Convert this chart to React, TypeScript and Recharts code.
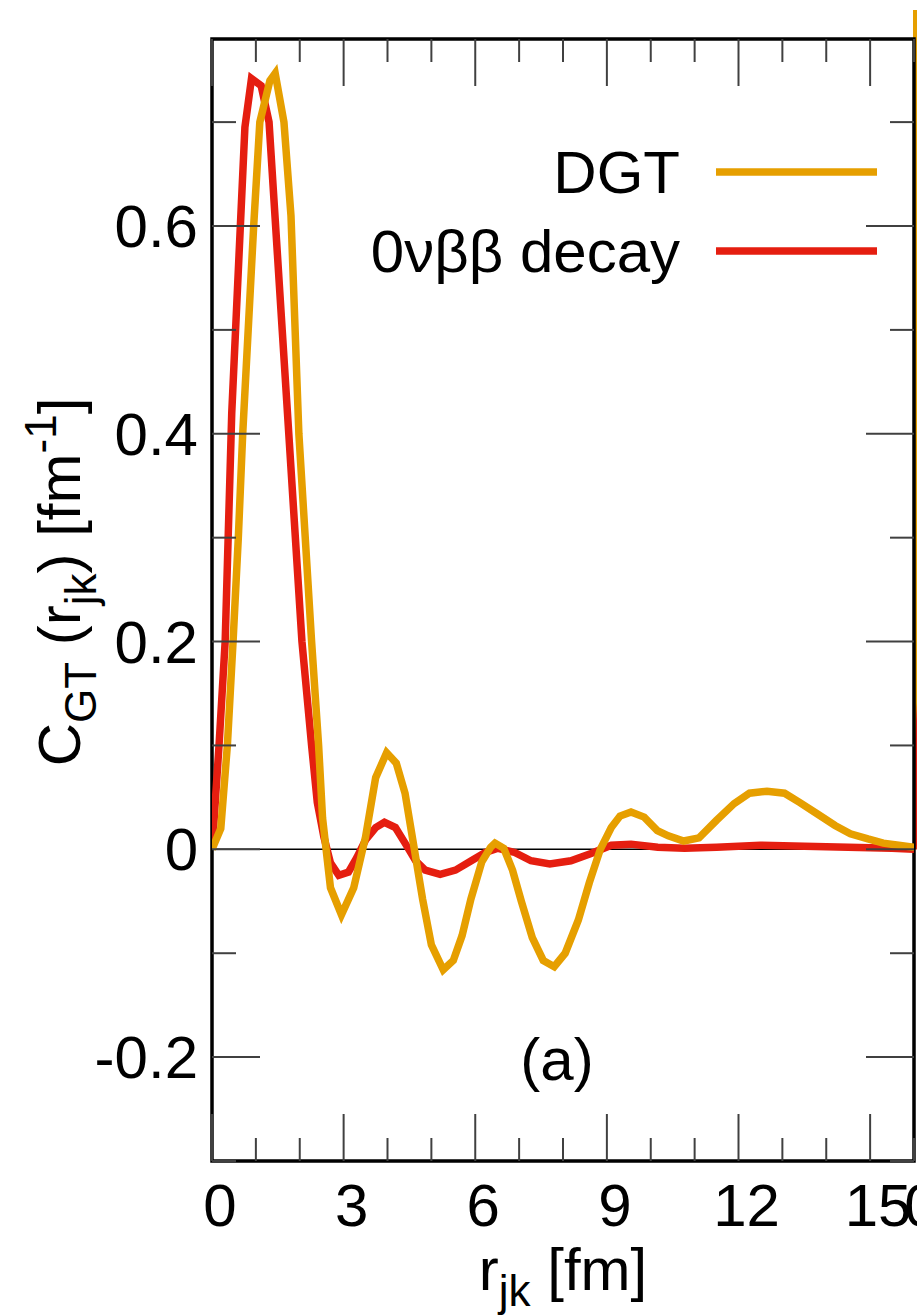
import React from 'react';
import { LineChart, Line, XAxis, YAxis, ReferenceLine, ReferenceArea } from 'recharts';

const FONT = '"Liberation Sans", Arial, Helvetica, sans-serif';
const ORANGE = '#E69F00';
const RED = '#E51E10';
const TICK = '#404040';

// panel (a) – r_jk in fm
const dgtR = [0, 0.2, 0.35, 0.48, 0.6, 0.7, 0.95, 1.09, 1.32, 1.44, 1.64, 1.8, 1.98, 2.27, 2.43, 2.52, 2.7, 2.95, 3.23, 3.5, 3.73, 3.98, 4.2, 4.4, 4.6, 4.8, 5.0, 5.27, 5.5, 5.7, 5.9, 6.15, 6.35, 6.45, 6.65, 6.85, 7.05, 7.3, 7.55, 7.8, 8.05, 8.35, 8.6, 8.85, 9.1, 9.3, 9.55, 9.85, 10.15, 10.4, 10.75, 11.1, 11.5, 11.9, 12.25, 12.65, 13.05, 13.4, 13.8, 14.2, 14.55, 14.95, 15.3, 15.65, 16];
const dgtV = [0, 0.02, 0.1, 0.2, 0.3, 0.4, 0.6, 0.7, 0.74, 0.747, 0.7, 0.61, 0.4, 0.2, 0.1, 0.03, -0.037, -0.063, -0.037, 0.012, 0.069, 0.093, 0.083, 0.054, 0.003, -0.048, -0.092, -0.116, -0.107, -0.083, -0.048, -0.012, 0.002, 0.006, 0.001, -0.02, -0.05, -0.085, -0.107, -0.113, -0.1, -0.068, -0.032, 0.0, 0.021, 0.032, 0.036, 0.031, 0.018, 0.013, 0.008, 0.011, 0.028, 0.044, 0.054, 0.056, 0.054, 0.045, 0.034, 0.023, 0.015, 0.01, 0.006, 0.004, 0.002];

const onbbR = [0, 0.05, 0.16, 0.3, 0.45, 0.75, 0.9, 1.12, 1.3, 1.6, 1.75, 2.05, 2.27, 2.4, 2.55, 2.7, 2.89, 3.11, 3.3, 3.5, 3.73, 3.93, 4.18, 4.4, 4.64, 4.86, 5.2, 5.55, 5.91, 6.23, 6.52, 6.9, 7.27, 7.7, 8.18, 8.64, 9.1, 9.55, 10.16, 10.77, 11.5, 12.5, 13.5, 14.5, 15.5, 16];
const onbbV = [0, 0.03, 0.1, 0.2, 0.42, 0.695, 0.742, 0.735, 0.7, 0.5, 0.4, 0.2, 0.1, 0.045, 0.012, -0.013, -0.025, -0.022, -0.008, 0.009, 0.021, 0.026, 0.021, 0.006, -0.011, -0.02, -0.024, -0.02, -0.011, -0.003, 0.001, -0.003, -0.011, -0.014, -0.011, -0.004, 0.004, 0.005, 0.002, 0.001, 0.002, 0.004, 0.003, 0.002, 0.001, 0];

// panel (b) starts at the right edge, only its first rise is visible
const panelBR = [0, 0.2];
const panelBDgt = [0, 3.0];
const panelBOnbb = [0, 0.16];
const panelBTicks = [0];

const xTicks = [0, 1, 2, 3, 4, 5, 6, 7, 8, 9, 10, 11, 12, 13, 14, 15, 16];
const yTicks = [-0.3, -0.2, -0.1, 0, 0.1, 0.2, 0.3, 0.4, 0.5, 0.6, 0.7];

const series = [
  { name: 'DGT', color: ORANGE },
  { name: '0νββ decay', color: RED },
];

const toRows = (r: number[], v: number[]) => r.map((x, i) => ({ r: x, v: v[i] }));
const dgtData = toRows(dgtR, dgtV);
const onbbData = toRows(onbbR, onbbV);
const bDgtData = toRows(panelBR, panelBDgt);
const bOnbbData = toRows(panelBR, panelBOnbb);

const PLOT_W = 702;
const PLOT_H = 1122;
const FS = 60;
const LW = 7.5;

const XTick = (props: any) => {
  const { x, y, payload } = props;
  const v = payload.value;
  const major = v % 3 === 0;
  const len = major ? 47 : 23;
  return (
    <g>
      <line x1={x} x2={x} y1={y} y2={y - len} stroke={TICK} strokeWidth={2} />
      <line x1={x} x2={x} y1={y - PLOT_H} y2={y - PLOT_H + len} stroke={TICK} strokeWidth={2} />
      {major && (
        <text x={x + 8} y={y + 65} textAnchor="middle" fontFamily={FONT} fontSize={FS} fill="#000">
          {v}
        </text>
      )}
    </g>
  );
};

const BTick = (props: any) => {
  const { x, y, payload } = props;
  return (
    <text x={x + 8} y={y + 65} textAnchor="middle" fontFamily={FONT} fontSize={FS} fill="#000">
      {payload.value}
    </text>
  );
};

const YTick = (props: any) => {
  const { x, y, payload } = props;
  const v = payload.value;
  const k = Math.round(v * 10);
  const major = k % 2 === 0;
  const len = major ? 48 : 24;
  return (
    <g>
      <line x1={x} x2={x + len} y1={y} y2={y} stroke={TICK} strokeWidth={2} />
      <line x1={x + PLOT_W} x2={x + PLOT_W - len} y1={y} y2={y} stroke={TICK} strokeWidth={2} />
      {major && (
        <text x={x - 14} y={y + 21} textAnchor="end" fontFamily={FONT} fontSize={FS} fill="#000">
          {k === 0 ? '0' : v.toFixed(1)}
        </text>
      )}
    </g>
  );
};

const Labels = () => (
  <g fontFamily={FONT} fill="#000">
    <text x={563} y={1290} textAnchor="middle" fontSize={FS}>
      r<tspan dy={16} fontSize={44}>jk</tspan>
      <tspan dy={-16}> [fm]</tspan>
    </text>
    <text x={80} y={582} textAnchor="middle" fontSize={FS} transform="rotate(-90 80 582)">
      C<tspan dy={16} fontSize={44}>GT</tspan>
      <tspan dy={-16}> (r</tspan>
      <tspan dy={16} fontSize={44}>jk</tspan>
      <tspan dy={-16}>) [fm</tspan>
      <tspan dy={-24} fontSize={44}>-1</tspan>
      <tspan dy={24}>]</tspan>
    </text>
    <text x={557} y={1080} textAnchor="middle" fontSize={FS}>(a)</text>
    {series.map((s, i) => (
      <g key={s.name}>
        <text x={680} y={193 + i * 79} textAnchor="end" fontSize={FS}>{s.name}</text>
        <line x1={716} x2={877} y1={172 + i * 79} y2={172 + i * 79} stroke={s.color} strokeWidth={LW} />
      </g>
    ))}
  </g>
);

export default function App() {
  return (
    <div style={{ position: 'absolute', left: 0, top: 0, width: 920, height: 1315, overflow: 'hidden', background: '#fff' }}>
      <div style={{ position: 'absolute', left: 0, top: 0, width: 917, height: 1315, overflow: 'hidden' }}>
        <LineChart width={1700} height={1315} margin={{ top: 10, right: 85, bottom: 0, left: 913 }}>
          <XAxis
            type="number"
            dataKey="r"
            domain={[0, 16]}
            ticks={panelBTicks}
            height={154}
            tickSize={0}
            tickMargin={0}
            tickLine={false}
            axisLine={false}
            tick={(p: any) => <BTick {...p} />}
            allowDataOverflow
          />
          <YAxis type="number" domain={[-0.3, 0.808]} hide allowDataOverflow />
          <Line data={bDgtData} dataKey="v" type="linear" stroke={ORANGE} strokeWidth={LW} dot={false} isAnimationActive={false} />
          <Line data={bOnbbData} dataKey="v" type="linear" stroke={RED} strokeWidth={LW} dot={false} isAnimationActive={false} />
        </LineChart>
      </div>
      <div style={{ position: 'absolute', left: 0, top: 0 }}>
        <LineChart width={920} height={1315} margin={{ top: 39, right: 6, bottom: 0, left: 0 }}>
          <XAxis
            type="number"
            dataKey="r"
            domain={[0, 16]}
            ticks={xTicks}
            interval={0}
            height={154}
            tickSize={0}
            tickMargin={0}
            tickLine={false}
            axisLine={false}
            tick={(p: any) => <XTick {...p} />}
            allowDataOverflow
          />
          <YAxis
            type="number"
            domain={[-0.3, 0.78]}
            ticks={yTicks}
            interval={0}
            width={212}
            tickSize={0}
            tickMargin={0}
            tickLine={false}
            axisLine={false}
            tick={(p: any) => <YTick {...p} />}
            allowDataOverflow
          />
          <ReferenceLine y={0} stroke="#000" strokeWidth={1.5} />
          <Line data={onbbData} dataKey="v" name={series[1].name} type="linear" stroke={RED} strokeWidth={LW} dot={false} isAnimationActive={false} />
          <Line data={dgtData} dataKey="v" name={series[0].name} type="linear" stroke={ORANGE} strokeWidth={LW} dot={false} isAnimationActive={false} />
          <ReferenceArea x1={0} x2={16} y1={-0.3} y2={0.78} fill="none" stroke="#000" strokeWidth={3.5} ifOverflow="visible" />
          <Labels />
        </LineChart>
      </div>
    </div>
  );
}
